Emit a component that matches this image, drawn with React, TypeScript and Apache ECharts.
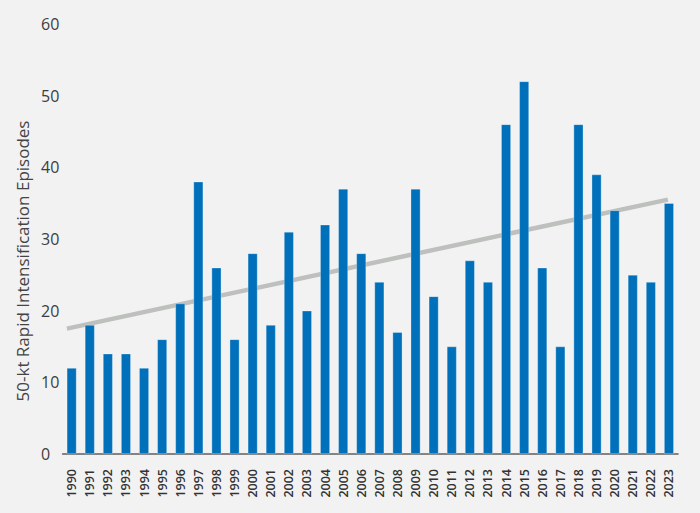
import * as echarts from "echarts";
import { useEffect, useRef } from "react";

const years = [
  "1990", "1991", "1992", "1993", "1994", "1995", "1996", "1997", "1998", "1999",
  "2000", "2001", "2002", "2003", "2004", "2005", "2006", "2007", "2008", "2009",
  "2010", "2011", "2012", "2013", "2014", "2015", "2016", "2017", "2018", "2019",
  "2020", "2021", "2022", "2023",
];

const episodes = [
  12, 18, 14, 14, 12, 16, 21, 38, 26, 16,
  28, 18, 31, 20, 32, 37, 28, 24, 17, 37,
  22, 15, 27, 24, 46, 52, 26, 15, 46, 39,
  34, 25, 24, 35,
];

// trend line end points, x in category index units
const trendStart = [-0.26, 17.5];
const trendEnd = [32.94, 35.5];

const yTicks = { min: 0, max: 60, interval: 10 };

const FONT = "'Open Sans', sans-serif";

const App = () => {
  const chartRef = useRef<HTMLDivElement | null>(null);

  useEffect(() => {
    const chart = echarts.init(chartRef.current!, null, { renderer: "svg" });

    const option = {
      animation: false,
      backgroundColor: "#F2F2F2",
      grid: { left: 62.6, right: 22, top: 24, bottom: 59 },
      xAxis: [
        {
          type: "category",
          data: years,
          boundaryGap: true,
          axisLine: { lineStyle: { color: "#5f5f5f", width: 1.6 } },
          axisTick: { show: false },
          axisLabel: {
            interval: 0,
            rotate: 90,
            margin: 15,
            fontFamily: FONT,
            fontSize: 12.5,
            fontWeight: 600,
            color: "#333",
          },
        },
        {
          type: "value",
          min: -0.5,
          max: 33.5,
          show: false,
        },
      ],
      yAxis: {
        type: "value",
        min: yTicks.min,
        max: yTicks.max,
        interval: yTicks.interval,
        splitLine: { show: false },
        axisLine: { show: false },
        axisTick: { show: false },
        axisLabel: {
          align: "left",
          margin: 21.6,
          fontFamily: FONT,
          fontSize: 16,
          color: "#3d3d3d",
          padding: [0, 0, 3, 0],
        },
      },
      graphic: [
        {
          type: "text",
          x: 22,
          y: 261,
          rotation: Math.PI / 2,
          style: {
            text: "50-kt Rapid Intensification Episodes",
            fontFamily: FONT,
            fontSize: 17,
            fill: "#444",
            align: "center",
            verticalAlign: "middle",
          },
        },
      ],
      series: [
        {
          type: "line",
          xAxisIndex: 1,
          data: [trendStart, trendEnd],
          symbol: "none",
          z: 1,
          lineStyle: { color: "#BEC0BE", width: 4.5 },
        },
        {
          type: "bar",
          xAxisIndex: 0,
          data: episodes,
          barWidth: "54%",
          z: 2,
          itemStyle: {
            color: "#0070BA",
            borderColor: "rgba(255,255,255,0.5)",
            borderWidth: 0.6,
          },
        },
      ],
    };

    chart.setOption(option);

    return () => {
      chart.dispose();
    };
  }, []);

  return (
    <div
      ref={chartRef}
      style={{ position: "fixed", left: 0, top: 0, width: 700, height: 513, background: "#F2F2F2" }}
    />
  );
};

export default App;
